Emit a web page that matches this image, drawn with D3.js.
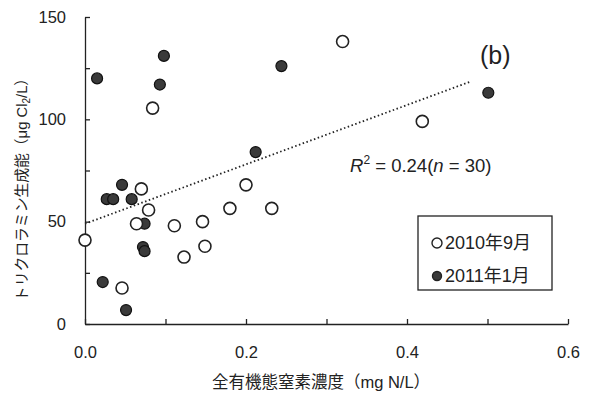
<!DOCTYPE html>
<html>
<head>
<meta charset="utf-8">
<script src="https://cdn.jsdelivr.net/npm/d3@7"></script>
<style>
  body { margin: 0; background: #fff; }
  svg { font-family: "Liberation Sans", Arial, "Noto Sans CJK JP", sans-serif; }
</style>
</head>
<body>
<script>
const width = 590;
const height = 395;
const margin = {top: 17, right: 22, bottom: 71, left: 85};

// 2010年9月 (open circles)
const sepX = [0.0, 0.084, 0.070, 0.079, 0.064, 0.111, 0.046, 0.200, 0.180, 0.232, 0.146, 0.149, 0.123, 0.320, 0.419];
const sepY = [41, 105.5, 66, 55.7, 49, 48, 17.6, 68, 56.5, 56.5, 50, 38, 32.7, 138, 99];

// 2011年1月 (filled circles)
const janX = [0.015, 0.098, 0.093, 0.244, 0.212, 0.501, 0.046, 0.027, 0.035, 0.058, 0.074, 0.072, 0.074, 0.022, 0.051];
const janY = [120, 131, 117, 126, 84, 113, 68, 61, 61, 61, 49, 37.6, 35.6, 20.5, 6.8];

// dotted trend line
const trendX = [0.0, 0.48];
const trendIntercept = 49;
const trendSlope = 145;

const xTicks = [0.0, 0.1, 0.2, 0.3, 0.4, 0.5, 0.6];
const xLabels = [0.0, 0.2, 0.4, 0.6];
const yTicks = [0, 25, 50, 75, 100, 125, 150];
const yLabels = [0, 50, 100, 150];

const legendLabels = ["2010年9月", "2011年1月"];

const svg = d3.select("body")
  .append("svg")
  .attr("width", width)
  .attr("height", height);

const x = d3.scaleLinear().domain([0, 0.6]).range([margin.left, width - margin.right]);
const y = d3.scaleLinear().domain([0, 150]).range([height - margin.bottom, margin.top]);

// axes
svg.append("g")
  .attr("transform", "translate(0," + y(0) + ")")
  .call(d3.axisBottom(x)
    .tickValues(xTicks)
    .tickSizeInner(-5)
    .tickSizeOuter(0)
    .tickPadding(22)
    .tickFormat(d => xLabels.some(v => Math.abs(v - d) < 1e-9) ? d3.format(".1f")(d) : ""));

svg.append("g")
  .attr("transform", "translate(" + x(0) + ",0)")
  .call(d3.axisLeft(y)
    .tickValues(yTicks)
    .tickSizeInner(-5)
    .tickSizeOuter(0)
    .tickPadding(19)
    .tickFormat(d => yLabels.includes(d) ? d : ""));

svg.selectAll(".domain, .tick line").attr("stroke", "#222").attr("stroke-width", 1.3);
svg.selectAll(".tick text").attr("font-size", 16.5).attr("fill", "#222")
  .attr("font-family", "'Liberation Sans', Arial, sans-serif");

// axis titles
svg.append("text")
  .attr("x", 321)
  .attr("y", 388)
  .attr("text-anchor", "middle")
  .attr("font-size", 16.5)
  .attr("fill", "#222")
  .text("全有機態窒素濃度（mg N/L）");

const yTitle = svg.append("text")
  .attr("transform", "translate(27,186) rotate(-90)")
  .attr("text-anchor", "middle")
  .attr("font-size", 14.8)
  .attr("fill", "#222");
yTitle.append("tspan").text("トリクロラミン生成能（μg Cl");
yTitle.append("tspan").attr("font-size", 10).attr("dy", 3).text("2");
yTitle.append("tspan").attr("dy", -3).text("/L）");

// trend line
const line = d3.line()
  .x(d => x(d))
  .y(d => y(trendIntercept + trendSlope * d));

svg.append("path")
  .datum(trendX)
  .attr("d", line)
  .attr("fill", "none")
  .attr("stroke", "#222")
  .attr("stroke-width", 1.8)
  .attr("stroke-dasharray", "1.5,2.5");

// points
const sepData = sepX.map((v, i) => ({x: v, y: sepY[i]}));
const janData = janX.map((v, i) => ({x: v, y: janY[i]}));

svg.append("g").selectAll("circle")
  .data(janData)
  .enter().append("circle")
  .attr("cx", d => x(d.x))
  .attr("cy", d => y(d.y))
  .attr("r", 5.5)
  .attr("fill", "#3a3a3a")
  .attr("stroke", "#111")
  .attr("stroke-width", 1.2);

svg.append("g").selectAll("circle")
  .data(sepData)
  .enter().append("circle")
  .attr("cx", d => x(d.x))
  .attr("cy", d => y(d.y))
  .attr("r", 6)
  .attr("fill", "#fff")
  .attr("stroke", "#222")
  .attr("stroke-width", 1.6);

// annotations
svg.append("text")
  .attr("x", 480)
  .attr("y", 64)
  .attr("font-size", 25)
  .attr("fill", "#222")
  .text("(b)");

const r2 = svg.append("text")
  .attr("x", 350)
  .attr("y", 172)
  .attr("font-size", 18.5)
  .attr("fill", "#222");
r2.append("tspan").attr("font-style", "italic").text("R");
r2.append("tspan").attr("font-size", 12).attr("dy", -8).text("2");
r2.append("tspan").attr("dy", 8).text(" = 0.24(");
r2.append("tspan").attr("font-style", "italic").text("n");
r2.append("tspan").text(" = 30)");

// legend
const legend = svg.append("g");
legend.append("rect")
  .attr("x", 418)
  .attr("y", 216)
  .attr("width", 134)
  .attr("height", 74)
  .attr("fill", "#fff")
  .attr("stroke", "#222")
  .attr("stroke-width", 1.3);

legendLabels.forEach((lab, i) => {
  const ly = 243 + i * 33;
  legend.append("circle")
    .attr("cx", 437)
    .attr("cy", ly)
    .attr("r", i === 0 ? 5 : 4.5)
    .attr("fill", i === 0 ? "#fff" : "#3a3a3a")
    .attr("stroke", "#222")
    .attr("stroke-width", 1.4);
  legend.append("text")
    .attr("x", 445)
    .attr("y", ly + 6)
    .attr("font-size", 18)
    .attr("fill", "#222")
    .text(lab);
});
</script>
</body>
</html>
